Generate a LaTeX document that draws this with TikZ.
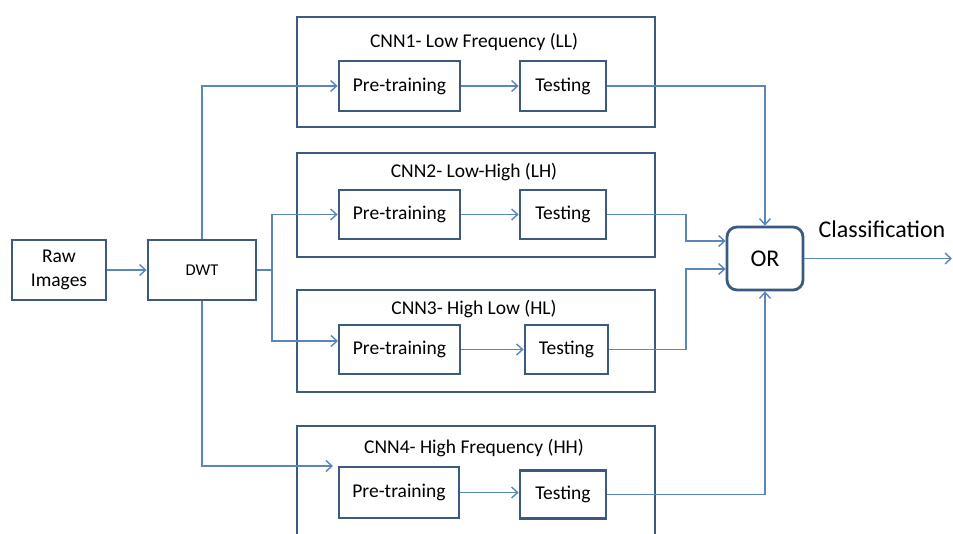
\documentclass[tikz,border=0pt]{standalone}
\usepackage{fontspec}
\setmainfont{Carlito}
\usetikzlibrary{arrows.meta,calc}
\definecolor{boxc}{HTML}{3B5A80}
\definecolor{linec}{HTML}{5B86B8}
\begin{document}
\begin{tikzpicture}[x=1pt,y=-1pt,
  outerbox/.style={draw=boxc,line width=2.8pt,fill=white,inner sep=0pt},
  inbox/.style={draw=boxc,line width=2.8pt,fill=white,inner sep=0pt,font=\fontsize{19.5}{24}\selectfont,align=center},
  orbox/.style={draw=boxc,line width=2.8pt,fill=white,inner sep=0pt,rounded corners=10pt,font=\fontsize{24}{28}\selectfont},
  ttl/.style={inner sep=0pt,font=\fontsize{19.5}{24}\selectfont},
  conn/.style={draw=linec,line width=1.4pt,-{Straight Barb[length=6pt,width=11pt,line width=1.4pt]}},
  plain/.style={draw=linec,line width=1.4pt}]
\useasboundingbox (0,0) rectangle (953,533);
\clip (0,0) rectangle (953,533);
% outer CNN boxes
\node[outerbox,minimum width=358pt,minimum height=110pt] (c1) at (476,72) {};
\node[outerbox,minimum width=358pt,minimum height=104pt] (c2) at (476,205) {};
\node[outerbox,minimum width=358pt,minimum height=102pt] (c3) at (476,341) {};
\node[outerbox,minimum width=358pt,minimum height=130pt] (c4) at (476,491) {};
\node[ttl] (t1) at (474,42) {CNN1- Low Frequency (LL)};
\node[ttl] (t2) at (474,172) {CNN2- Low-High (LH)};
\node[ttl] (t3) at (474,309) {CNN3- High Low (HL)};
\node[ttl] (t4) at (474,448) {CNN4- High Frequency (HH)};
% inner boxes
\node[inbox,minimum width=94pt,minimum height=60pt] (raw) at (59,270) {Raw\\Images};
\node[inbox,minimum width=108pt,minimum height=60pt,font=\fontsize{16.5}{20}\selectfont] (dwt) at (202,270) {DWT};
\node[inbox,minimum width=121pt,minimum height=50pt] (pt1) at (399.5,86) {Pre-training};
\node[inbox,minimum width=86pt,minimum height=50pt] (ts1) at (563,86) {Testing};
\node[inbox,minimum width=121pt,minimum height=49pt] (pt2) at (399.5,214.5) {Pre-training};
\node[inbox,minimum width=86pt,minimum height=49pt] (ts2) at (563,214.5) {Testing};
\node[inbox,minimum width=121pt,minimum height=49pt] (pt3) at (399.5,349.5) {Pre-training};
\node[inbox,minimum width=83pt,minimum height=49pt] (ts3) at (566.5,349.5) {Testing};
\node[inbox,minimum width=120pt,minimum height=51pt] (pt4) at (399,492.5) {Pre-training};
\node[inbox,minimum width=86pt,minimum height=48pt] (ts4) at (563,494.5) {Testing};
\node[orbox,minimum width=76pt,minimum height=63pt] (or) at (765,258.5) {OR};
\node[inner sep=0pt,font=\fontsize{24}{28}\selectfont] (cls) at (882,229) {Classification};
% coordinates
\coordinate (j) at (272,270);
\coordinate (a3) at (338,341);
\coordinate (a4) at (333,466);
\coordinate (k2) at (686,214.5);
\coordinate (k3) at (686,349.5);
\coordinate (in2) at ($(or.west)+(0,-17.5)$);
\coordinate (in3) at ($(or.west)+(0,10.5)$);
\coordinate (out) at (952,258.5);
% connectors
\draw[conn] (raw) -- (dwt);
\draw[plain] (dwt.east) -- (j);
\draw[conn] (j) |- (pt2.west);
\draw[conn] (j) |- (a3);
\draw[conn] (dwt.north) |- (pt1.west);
\draw[conn] (dwt.south) |- (a4);
\draw[conn] (pt1) -- (ts1);
\draw[conn] (pt2) -- (ts2);
\draw[conn] (pt3) -- (ts3);
\draw[conn] (pt4.east) -- (pt4.east -| ts4.west);
\draw[conn] (ts1.east) -| (or.north);
\draw[conn] (ts2.east) -- (k2) |- (in2);
\draw[conn] (ts3.east) -- (k3) |- (in3);
\draw[conn] (ts4.east) -| (or.south);
\draw[conn] (or.east) -- (out);
\end{tikzpicture}
\end{document}
